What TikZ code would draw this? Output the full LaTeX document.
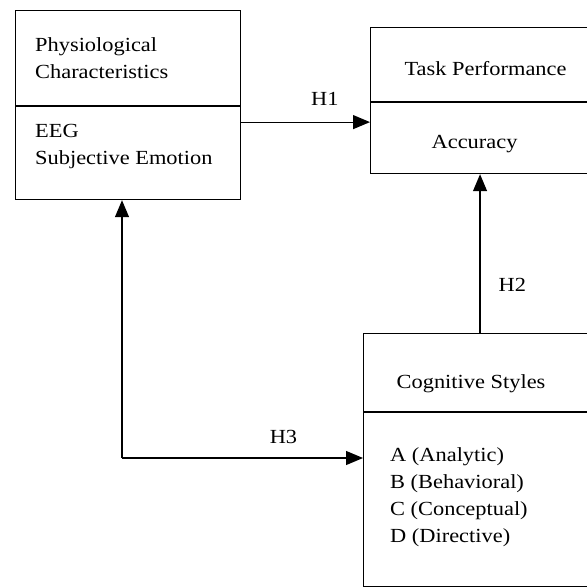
\documentclass[tikz,border=0pt]{standalone}
\usepackage{fontspec}
\setmainfont[FakeStretch=1.12]{Liberation Serif}
\usepackage{tikz}
\usetikzlibrary{positioning}
\usetikzlibrary{arrows.meta}

\begin{document}
\begin{tikzpicture}[x=1pt, y=-1pt,
    box/.style={draw, line width=1.1pt, rectangle, inner sep=0pt},
    txt/.style={inner sep=0pt, align=left, font=\fontsize{20}{27}\selectfont},
    arr/.style={line width=1.2pt, -{Triangle[length=17pt,width=14pt]}},
    hyp/.style={inner sep=0pt, font=\fontsize{20}{24}\selectfont}]
    % Fix the page size
    \useasboundingbox (0,0) rectangle (587,587);
    \clip (0,0) rectangle (587,587);

    % Draw physiological box
    \node[box, minimum width=225, minimum height=95, anchor=north west] (physt) at (15,10) {};
    \node[box, minimum width=225, minimum height=93, anchor=north west] (physb) at (physt.south west) {};
    \node[txt, anchor=west] (physname) at ([xshift=20]physt.west) {Physiological\\Characteristics};
    \node[txt, anchor=west] (physvar) at ([xshift=20,yshift=7]physb.west) {EEG\\Subjective Emotion};

    % Draw task performance box
    \node[box, minimum width=232, minimum height=74, anchor=north west] (taskt) at (370,27) {};
    \node[box, minimum width=232, minimum height=71, anchor=north west] (taskb) at (taskt.south west) {};
    \node[txt] (taskname) at ([xshift=-1,yshift=-4]taskt.center) {Task Performance};
    \node[txt] (taskvar) at ([xshift=-12,yshift=-6]taskb.center) {Accuracy};

    % Draw cognitive styles box
    \node[box, minimum width=239, minimum height=78, anchor=north west] (cogt) at (363,333) {};
    \node[box, minimum width=239, minimum height=174, anchor=north west] (cogb) at (cogt.south west) {};
    \node[txt] (cogname) at ([xshift=-12,yshift=-11]cogt.center) {Cognitive Styles};
    \node[txt, anchor=west] (cogvar) at ([xshift=27,yshift=2]cogb.west)
          {A (Analytic)\\B (Behavioral)\\C (Conceptual)\\D (Directive)};

    % Draw hypotheses
    \draw[arr] ([yshift=-16]physb.north east) coordinate (h1s)
        -- (h1s -| taskb.west) node[hyp, above=16pt, pos=0.65] {H1};
    \draw[arr] ([xshift=-3]cogt.north) coordinate (h2s)
        -- (h2s |- taskb.south) node[hyp, right, pos=0.3, xshift=18] {H2};
    \coordinate (h3c) at (122,458);
    \draw[arr] (h3c) -- (h3c |- physb.south);
    \draw[arr] (h3c) -- (h3c -| cogb.west) node[hyp, above=14pt, pos=0.67] {H3};
\end{tikzpicture}
\end{document}
